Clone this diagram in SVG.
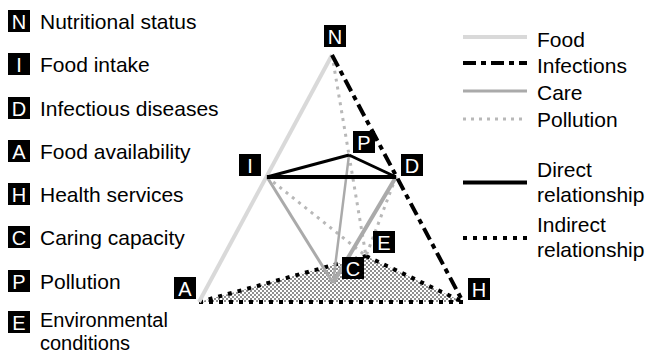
<svg xmlns="http://www.w3.org/2000/svg" width="651" height="356" viewBox="0 0 651 356">
<style>
text{font-family:"Liberation Sans",Arial,sans-serif;font-size:21px;fill:#000}
.lbl{fill:#fff;font-size:20px;text-anchor:middle}
.box{fill:#000}
.food{stroke:#d9d9d9;stroke-width:4;fill:none}
.inf{stroke:#000;stroke-width:4;stroke-dasharray:13 5 5 5;fill:none}
.care{stroke:#aaaaaa;stroke-width:3;fill:none}
.pol{stroke:#b8b8b8;stroke-width:3;stroke-dasharray:3 5;fill:none}
.dir{stroke:#000;stroke-width:3;fill:none}
.ind{stroke:#000;stroke-width:4;stroke-dasharray:4 6;fill:none}
</style>
<defs>
<pattern id="dots" width="4" height="4" patternUnits="userSpaceOnUse">
<rect width="4" height="4" fill="#ffffff"/>
<circle cx="1" cy="1" r="0.8" fill="#000"/>
<circle cx="3" cy="3" r="0.8" fill="#000"/>
</pattern>
</defs>
<rect width="651" height="356" fill="#fff"/>
<g id="legend-left">
<g id="key-N"><rect class="box" x="8" y="10" width="22" height="22"/><text class="lbl" x="19" y="28.5">N</text><text x="40" y="28.5">Nutritional status</text></g>
<g id="key-I"><rect class="box" x="8" y="53" width="22" height="22"/><text class="lbl" x="19" y="71.5">I</text><text x="40" y="71.5">Food intake</text></g>
<g id="key-D"><rect class="box" x="8" y="97" width="22" height="22"/><text class="lbl" x="19" y="115.5">D</text><text x="40" y="115.5">Infectious diseases</text></g>
<g id="key-A"><rect class="box" x="8" y="140" width="22" height="22"/><text class="lbl" x="19" y="158.5">A</text><text x="40" y="158.5">Food availability</text></g>
<g id="key-H"><rect class="box" x="8" y="183" width="22" height="22"/><text class="lbl" x="19" y="201.5">H</text><text x="40" y="201.5">Health services</text></g>
<g id="key-C"><rect class="box" x="8" y="226" width="22" height="22"/><text class="lbl" x="19" y="244.5">C</text><text x="40" y="244.5">Caring capacity</text></g>
<g id="key-P"><rect class="box" x="8" y="270" width="22" height="22"/><text class="lbl" x="19" y="288.5">P</text><text x="40" y="288.5">Pollution</text></g>
<g id="key-E"><rect class="box" x="8" y="311" width="22" height="22"/><text class="lbl" x="19" y="329.5">E</text><text x="40" y="327" style="font-size:20px">Environmental</text><text x="40" y="350" style="font-size:20px">conditions</text></g>
</g>
<g id="legend-right">
<line class="food" x1="463" y1="37" x2="527" y2="37"/><text x="537" y="47">Food</text>
<line class="inf" x1="463" y1="63" x2="527" y2="63"/><text x="537" y="73">Infections</text>
<line class="care" x1="463" y1="91" x2="527" y2="91"/><text x="537" y="100">Care</text>
<line class="pol" x1="463" y1="119" x2="527" y2="119"/><text x="537" y="127">Pollution</text>
<line class="dir" x1="463" y1="182.5" x2="527" y2="182.5" style="stroke-width:4"/><text x="537" y="177">Direct</text><text x="537" y="202">relationship</text>
<line class="ind" x1="463" y1="238" x2="527" y2="238"/><text x="537" y="232">Indirect</text><text x="537" y="257">relationship</text>
</g>
<g id="connectors">
<polygon points="199,302 366,256 463,302" fill="url(#dots)" stroke="none"/>
<line class="ind" x1="199" y1="302" x2="366" y2="256"/>
<line class="ind" x1="366" y1="256" x2="463" y2="302"/>
<line class="ind" x1="199" y1="302" x2="463" y2="302"/>
<line class="food" x1="199" y1="302" x2="332" y2="55"/>
<line class="pol" x1="332" y1="55" x2="349" y2="155"/>
<line class="pol" x1="349" y1="155" x2="366" y2="256"/>
<line class="pol" x1="267" y1="177" x2="366" y2="256"/>
<line class="pol" x1="396" y1="177" x2="366" y2="256"/>
<line class="care" x1="267" y1="177" x2="333" y2="283"/>
<line class="care" x1="349" y1="155" x2="333" y2="283" style="stroke-width:2.5"/>
<line class="care" x1="396" y1="177" x2="333" y2="283" style="stroke-width:4"/>
<line class="dir" x1="267" y1="177" x2="396" y2="177" style="stroke-width:4"/>
<line class="dir" x1="267" y1="177" x2="349" y2="155"/>
<line class="dir" x1="349" y1="155" x2="396" y2="177"/>
<line class="inf" x1="332" y1="55" x2="463" y2="302"/>
</g>
<g id="node-N"><rect class="box" x="324" y="25" width="22" height="22"/><text class="lbl" x="335" y="43.5">N</text></g>
<g id="node-I"><rect class="box" x="239" y="154" width="22" height="22"/><text class="lbl" x="250" y="172.5">I</text></g>
<g id="node-P"><rect class="box" x="353" y="131" width="22" height="22"/><text class="lbl" x="364" y="149.5">P</text></g>
<g id="node-D"><rect class="box" x="401" y="154" width="22" height="22"/><text class="lbl" x="412" y="172.5">D</text></g>
<g id="node-E"><rect class="box" x="373" y="231" width="22" height="22"/><text class="lbl" x="384" y="249.5">E</text></g>
<g id="node-C"><rect class="box" x="342" y="257" width="22" height="22"/><text class="lbl" x="353" y="275.5">C</text></g>
<g id="node-A"><rect class="box" x="174" y="277" width="22" height="22"/><text class="lbl" x="185" y="295.5">A</text></g>
<g id="node-H"><rect class="box" x="468" y="278" width="22" height="22"/><text class="lbl" x="479" y="296.5">H</text></g>
</svg>
